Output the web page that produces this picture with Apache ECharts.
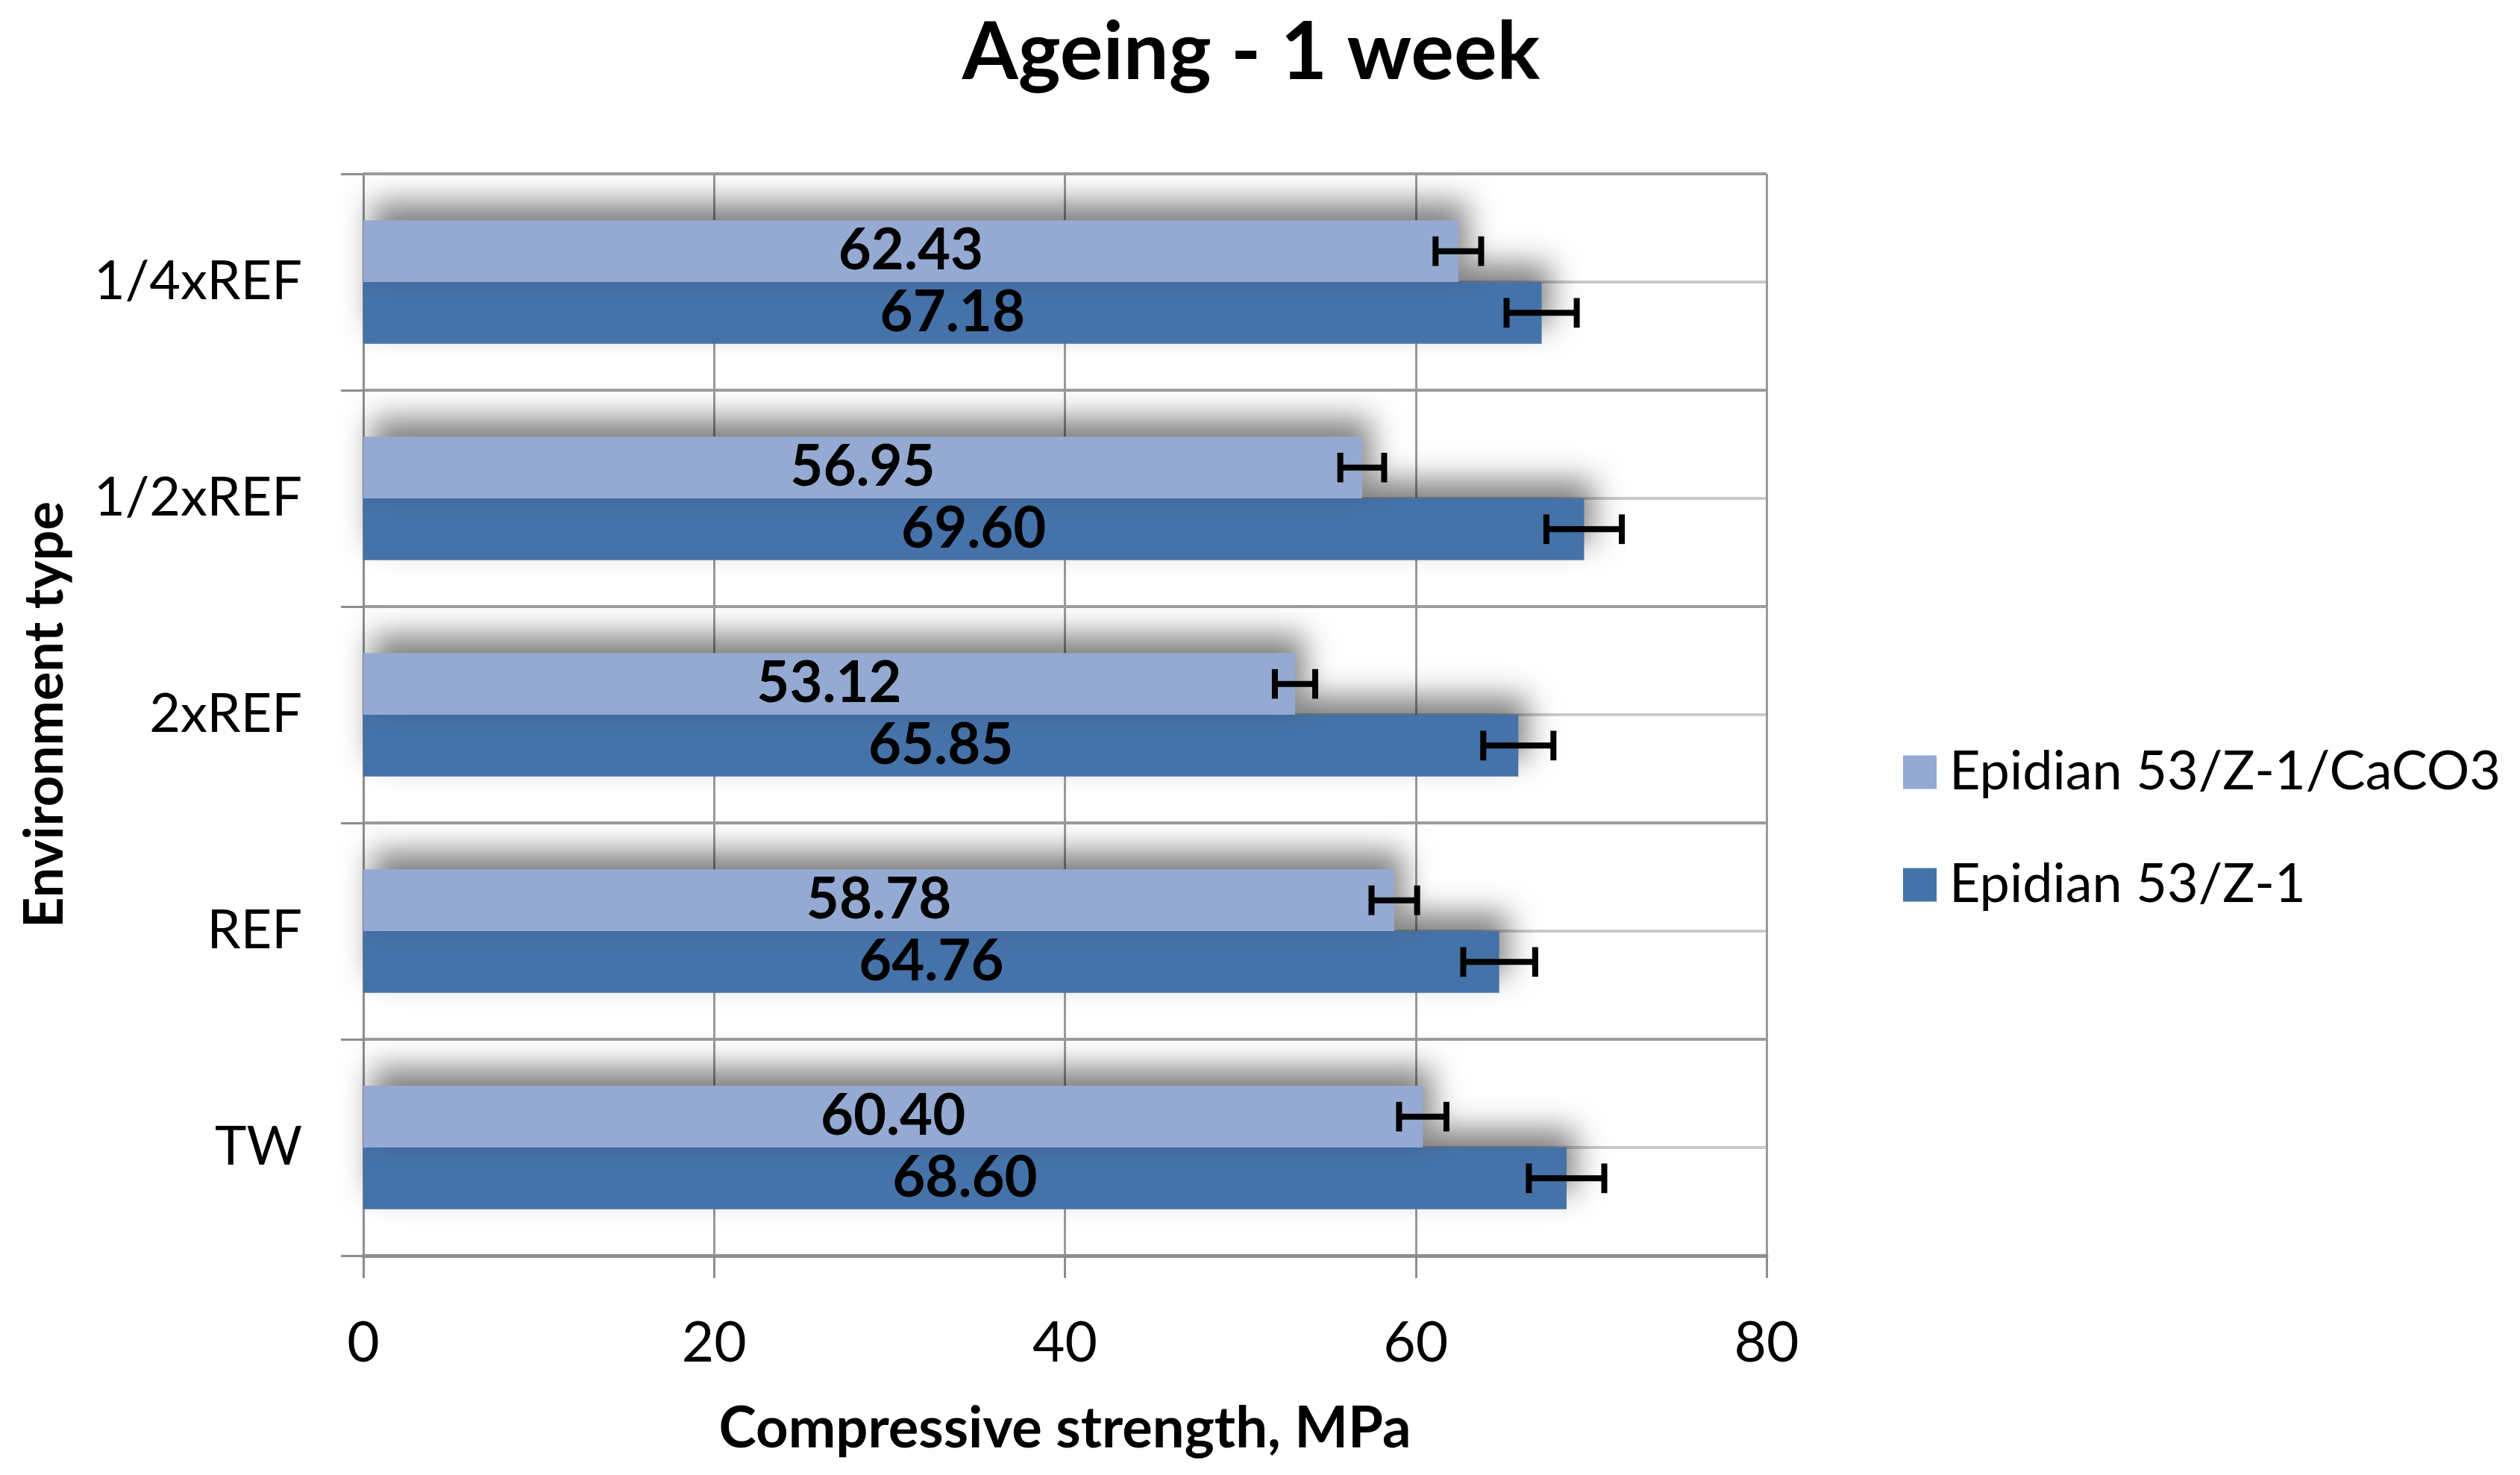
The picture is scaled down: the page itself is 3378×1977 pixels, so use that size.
<!DOCTYPE html>
<html>
<head>
<meta charset="utf-8">
<script src="https://cdn.jsdelivr.net/npm/echarts@6/dist/echarts.min.js"></script>
<style>
  html, body { margin: 0; padding: 0; background: #ffffff; }
  #chart { width: 3378px; height: 1977px; }
</style>
</head>
<body>
<div id="chart"></div>
<script>
// ---- data ----
const categories = ['TW', 'REF', '2xREF', '1/2xREF', '1/4xREF'];
const seriesNames = ['Epidian 53/Z-1/CaCO3', 'Epidian 53/Z-1'];
const caco3Values = [60.40, 58.78, 53.12, 56.95, 62.43];
const z1Values = [68.60, 64.76, 65.85, 69.60, 67.18];
const caco3Errors = [1.35, 1.3, 1.15, 1.25, 1.3];
const z1Errors = [2.15, 2.05, 2.0, 2.15, 2.0];
const xTicks = [0, 20, 40, 60, 80];

const FONT = 'Lato, "Open Sans", sans-serif';
const LIGHT = '#94aad2';
const DARK = '#4572a8';
const CAT_GAP = 0.43;

const chart = echarts.init(document.getElementById('chart'));

function errorRender(sign) {
  return function (params, api) {
    const val = api.value(0);
    const cat = api.value(1);
    const err = api.value(2);
    const band = api.size([0, 1])[1];
    const barH = band * (1 - CAT_GAP) / 2;
    const c = api.coord([val, cat]);
    const y = c[1] + sign * barH / 2;
    const lo = api.coord([val - err, cat])[0];
    const hi = api.coord([val + err, cat])[0];
    const h = barH * 0.24;
    const style = { stroke: '#000000', lineWidth: 8 };
    return {
      type: 'group',
      children: [
        { type: 'line', shape: { x1: lo, y1: y, x2: hi, y2: y }, style },
        { type: 'line', shape: { x1: lo, y1: y - h, x2: lo, y2: y + h }, style },
        { type: 'line', shape: { x1: hi, y1: y - h, x2: hi, y2: y + h }, style }
      ]
    };
  };
}

const barShadow = {
  shadowBlur: 40,
  shadowColor: 'rgba(0,0,0,0.5)',
  shadowOffsetX: 12,
  shadowOffsetY: -24
};

const labelStyle = {
  show: true,
  position: 'inside',
  color: '#000000',
  fontFamily: FONT,
  fontWeight: 'bold',
  fontSize: 76,
  formatter: (p) => p.value.toFixed(2)
};

chart.setOption({
  animation: false,
  backgroundColor: '#ffffff',
  title: {
    text: 'Ageing - 1 week',
    left: 1672,
    textAlign: 'center',
    top: 12,
    textStyle: { fontFamily: FONT, fontWeight: 'bold', fontSize: 108, color: '#000000' }
  },
  legend: {
    data: seriesNames,
    orient: 'vertical',
    left: 2546,
    top: 990,
    itemWidth: 45,
    itemHeight: 45,
    itemGap: 71,
    icon: 'rect',
    textStyle: { fontFamily: FONT, fontSize: 72, color: '#000000', lineHeight: 80, padding: [0, 0, 0, 12] }
  },
  grid: { left: 487, right: 1010, top: 233, bottom: 294, containLabel: false },
  xAxis: {
    type: 'value',
    min: 0,
    max: 80,
    interval: 20,
    name: 'Compressive strength, MPa',
    nameLocation: 'middle',
    nameGap: 194,
    nameTextStyle: { fontFamily: FONT, fontWeight: 'bold', fontSize: 76, color: '#000000' },
    axisLine: { show: true, lineStyle: { color: '#8e8e8e', width: 5 } },
    axisTick: { show: true, length: 30, lineStyle: { color: '#8e8e8e', width: 3 } },
    axisLabel: {
      fontFamily: FONT, fontSize: 75, color: '#000000', margin: 80,
      formatter: (v) => (xTicks.indexOf(v) >= 0 ? String(v) : '')
    },
    splitLine: { show: true, lineStyle: { color: '#9a9a9a', width: 3 } }
  },
  yAxis: [
    {
      type: 'category',
      data: categories,
      name: 'Environment type',
      nameLocation: 'middle',
      nameGap: 390,
      nameRotate: 90,
      nameTextStyle: { fontFamily: FONT, fontWeight: 'bold', fontSize: 72, color: '#000000' },
      axisLine: { show: true, lineStyle: { color: '#8e8e8e', width: 3 } },
      axisTick: { show: true, length: 30, lineStyle: { color: '#8e8e8e', width: 3 } },
      axisLabel: { fontFamily: FONT, fontSize: 72, color: '#000000', margin: 82 },
      splitLine: { show: false }
    },
    {
      type: 'value',
      min: 0,
      max: 10,
      interval: 1,
      show: true,
      position: 'right',
      axisLine: { show: false },
      axisTick: { show: false },
      axisLabel: { show: false },
      splitLine: { show: true, lineStyle: { color: ['#9c9c9c', '#cacaca'], width: 4 } }
    }
  ],
  series: [
    {
      name: seriesNames[0],
      type: 'bar',
      yAxisIndex: 0,
      data: caco3Values,
      barGap: '0%',
      barCategoryGap: (CAT_GAP * 100) + '%',
      z: 3,
      itemStyle: Object.assign({ color: LIGHT }, barShadow),
      label: labelStyle
    },
    {
      name: seriesNames[1],
      type: 'bar',
      yAxisIndex: 0,
      data: z1Values,
      barGap: '0%',
      barCategoryGap: (CAT_GAP * 100) + '%',
      z: 2,
      itemStyle: Object.assign({ color: DARK }, barShadow),
      label: labelStyle
    },
    {
      name: 'err0',
      type: 'custom',
      yAxisIndex: 0,
      z: 5,
      renderItem: errorRender(-1),
      data: caco3Values.map((v, i) => [v, i, caco3Errors[i]]),
      encode: { x: 0, y: 1 },
      silent: true
    },
    {
      name: 'err1',
      type: 'custom',
      yAxisIndex: 0,
      z: 5,
      renderItem: errorRender(1),
      data: z1Values.map((v, i) => [v, i, z1Errors[i]]),
      encode: { x: 0, y: 1 },
      silent: true
    }
  ]
});
</script>
</body>
</html>
